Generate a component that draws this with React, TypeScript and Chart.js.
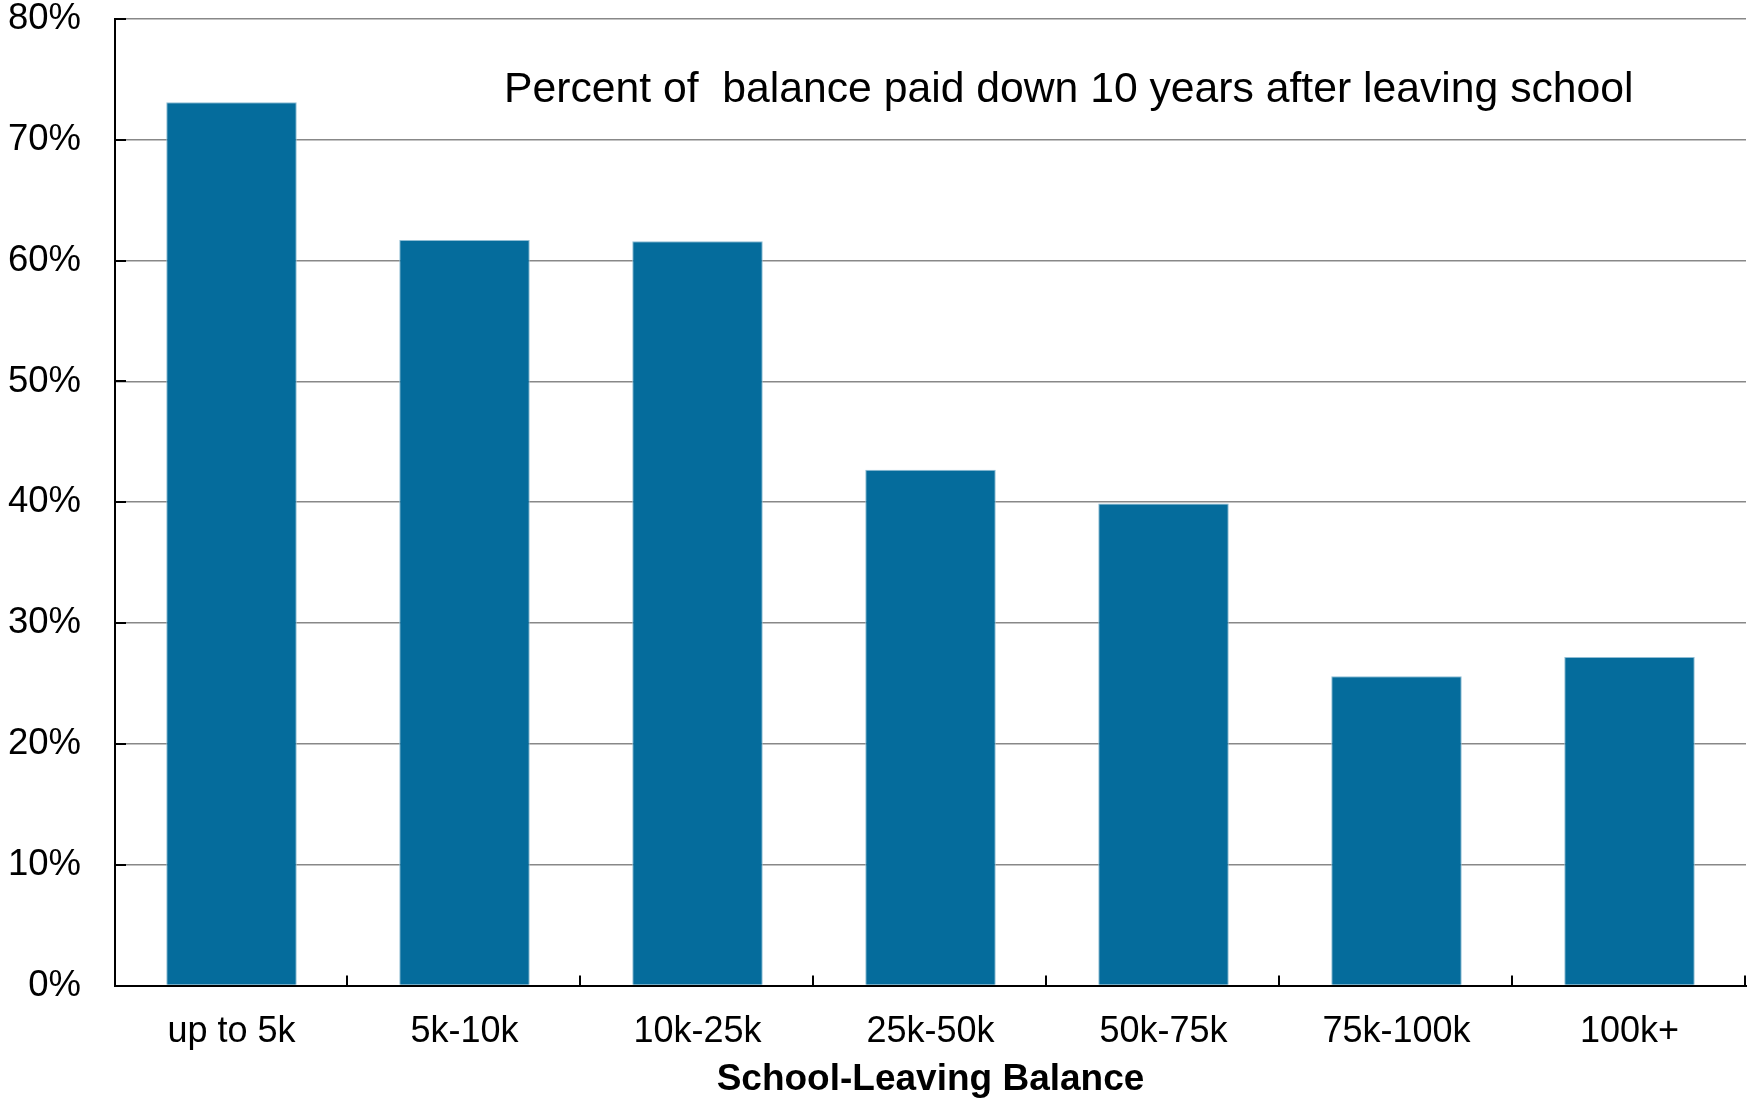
import React, { useEffect, useRef } from "react";
import { Chart, registerables } from "chart.js";

Chart.register(...registerables);

const categories = ["up to 5k", "5k-10k", "10k-25k", "25k-50k", "50k-75k", "75k-100k", "100k+"];
const paidDown = [73.1, 61.7, 61.6, 42.7, 39.9, 25.6, 27.2];
const yTickValues = [0, 10, 20, 30, 40, 50, 60, 70, 80];
const chartTitle = "Percent of  balance paid down 10 years after leaving school";
const xAxisTitle = "School-Leaving Balance";

const FONT = '"Liberation Sans", Arial, sans-serif';

const overlayPlugin = {
  id: "overlay",
  afterDraw(chart: any) {
    const { ctx, chartArea, scales } = chart;
    const y = scales.y;
    ctx.save();
    ctx.strokeStyle = "#000";
    ctx.lineWidth = 2;
    // inward y ticks
    yTickValues.forEach((v) => {
      const py = Math.round(y.getPixelForValue(v));
      ctx.beginPath();
      ctx.moveTo(chartArea.left, py);
      ctx.lineTo(chartArea.left + 11, py);
      ctx.stroke();
    });
    // inward x ticks at category boundaries
    const n = categories.length;
    const step = (chartArea.right - chartArea.left) / n;
    for (let i = 1; i <= n; i++) {
      const px = Math.round(chartArea.left + step * i) - 1;
      ctx.beginPath();
      ctx.moveTo(px, chartArea.bottom);
      ctx.lineTo(px, chartArea.bottom - 10);
      ctx.stroke();
    }
    // in-plot title
    ctx.fillStyle = "#000";
    ctx.font = `42.7px ${FONT}`;
    ctx.textAlign = "left";
    ctx.textBaseline = "alphabetic";
    ctx.fillText(chartTitle, 504, 102);
    ctx.restore();
  },
};

export default function App() {
  const canvasRef = useRef<HTMLCanvasElement | null>(null);

  useEffect(() => {
    document.body.style.margin = "0";
    const canvas = canvasRef.current;
    if (!canvas) return;
    const chart = new Chart(canvas, {
      type: "bar",
      data: {
        labels: categories,
        datasets: [
          {
            data: paidDown,
            backgroundColor: "#056c9c",
            borderColor: "#8fbdd4",
            borderWidth: 1,
            barPercentage: 0.56,
            categoryPercentage: 1,
          },
        ],
      },
      options: {
        animation: false,
        responsive: false,
        devicePixelRatio: 1,
        layout: { padding: { top: 19, right: 2, left: 0, bottom: 0 } },
        plugins: {
          legend: { display: false },
          title: { display: false },
          tooltip: { enabled: false },
        },
        scales: {
          x: {
            grid: { display: false, drawTicks: false },
            border: { display: true, color: "#000", width: 2 },
            ticks: {
              color: "#000",
              font: { family: FONT, size: 36 },
              padding: 25,
              maxRotation: 0,
              autoSkip: false,
            },
            title: {
              display: true,
              text: xAxisTitle,
              color: "#000",
              font: { family: FONT, size: 37, weight: "bold" },
              padding: { top: 0, bottom: 0 },
            },
            afterFit(scale: any) {
              scale.height = 116.5;
              scale.paddingLeft = 0;
              scale.paddingRight = 0;
            },
          },
          y: {
            min: 0,
            max: 80,
            grid: { color: "#888888", lineWidth: 1.6, drawTicks: false },
            border: { display: true, color: "#000", width: 2 },
            ticks: {
              stepSize: 10,
              color: "#000",
              font: { family: FONT, size: 36.5, lineHeight: 1 },
              padding: 34,
              callback: (v: any) => `${v}%`,
            },
            afterFit(scale: any) {
              scale.width = 115;
              scale.paddingTop = 18;
              scale.paddingBottom = 18;
            },
          },
        },
      },
      plugins: [overlayPlugin],
    });
    return () => chart.destroy();
  }, []);

  return (
    <div style={{ width: 1748, height: 1102 }}>
      <canvas ref={canvasRef} width={1748} height={1102} style={{ width: 1748, height: 1102, display: "block" }} />
    </div>
  );
}
